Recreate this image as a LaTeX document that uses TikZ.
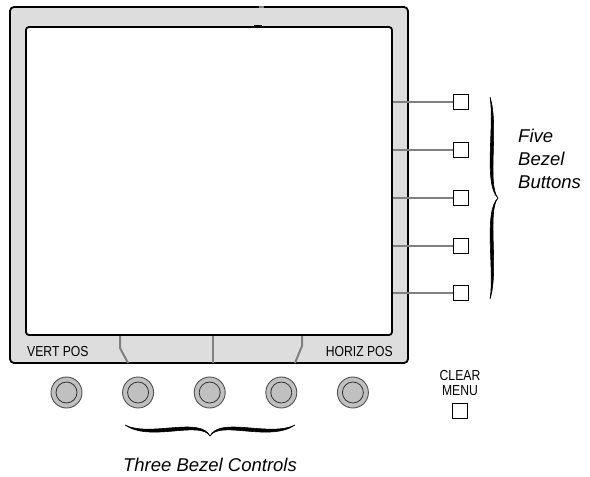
\documentclass[tikz,border=0pt]{standalone}
\usepackage{fontspec}
\setmainfont{Liberation Sans}
\newfontfamily\narrowsans{Liberation Sans}[FakeStretch=0.84]

\definecolor{bezelgray}{RGB}{221,221,221}
\definecolor{knobgray}{RGB}{192,192,192}
\definecolor{knobedge}{RGB}{80,80,80}
\definecolor{rulegray}{RGB}{128,128,128}

\begin{document}
\begin{tikzpicture}[
    x=1pt, y=-1pt,
    bezel/.style={
        rectangle, draw, line width=1.8pt, rounded corners=4pt, fill=bezelgray,
        minimum width=398pt, minimum height=356pt, inner sep=0pt
    },
    screen/.style={
        rectangle, draw, line width=1.8pt, rounded corners=3pt, fill=white,
        minimum width=366pt, minimum height=308pt, inner sep=0pt
    },
    knob/.style={circle, draw=knobedge, line width=0.9pt, fill=knobgray, minimum size=31pt, inner sep=0pt},
    knobcap/.style={circle, draw=black!80, line width=0.8pt, fill=knobgray, minimum size=21pt, inner sep=0pt},
    btn/.style={rectangle, draw, line width=0.8pt, fill=white, minimum size=15pt, inner sep=0pt},
    lbl/.style={font=\narrowsans\fontsize{14.5}{15}\selectfont, inner sep=0pt},
    caption/.style={font=\fontsize{18.5}{23}\selectfont\itshape, inner sep=0pt},
    rule/.style={draw=rulegray, line width=2pt},
    bracefill/.style={fill=black, draw=black, line width=0.6pt, line join=round}
]
\useasboundingbox (0,0) rectangle (590,477);

\node[bezel] (bezel) at (209,185) {};
\fill[rulegray] (259,5.5) rectangle (264,8);

\draw[rule] (120,336) -- (120,348) -- (128,363);
\draw[rule] (213,336) -- (213,363);
\draw[rule] (302,336) -- (302,346) -- (295,363);

\node[screen] (screen) at (209,181) {};
\fill (254,25) rectangle (262,28);

\node[lbl, anchor=base west] (vert)  at (27,356)  {VERT POS};
\node[lbl, anchor=base east] (horiz) at (393,356) {HORIZ POS};

\foreach \i in {0,...,4} {
    \node[knob] (k\i) at (66.5+71.6*\i,392.5) {};
    \node[knobcap] (c\i) at (k\i) {};
}

\foreach \i/\y in {1/102,2/150,3/198,4/246,5/293} {
    \node[btn] (b\i) at (461,\y) {};
    \draw[rule] (screen.east |- b\i) -- (b\i.west);
}

\node[lbl, align=center, anchor=base] (clear) at (460,395) {CLEAR\\MENU};
\node[btn] (clearbtn) at (460,411) {};

% braces
\filldraw[bracefill] (125,425) .. controls (150,442.5) and (200,420) .. (210,436)
    .. controls (200,416) and (150,437.5) .. (125,425);
\filldraw[bracefill] (295,425) .. controls (270,442.5) and (220,420) .. (210,436)
    .. controls (220,416) and (270,437.5) .. (295,425);
\filldraw[bracefill] (490,97) .. controls (499.2,125) and (486.8,185) .. (498,198)
    .. controls (483.2,185) and (494.8,125) .. (490,97);
\filldraw[bracefill] (490,299) .. controls (499.2,271) and (486.8,211) .. (498,198)
    .. controls (483.2,211) and (494.8,271) .. (490,299);

\node[caption, anchor=base] (controls) at (210,471) {Three Bezel Controls};
\node[caption, anchor=base west, align=left] (buttons) at (518,188) {Five\\Bezel\\Buttons};

\end{tikzpicture}
\end{document}
